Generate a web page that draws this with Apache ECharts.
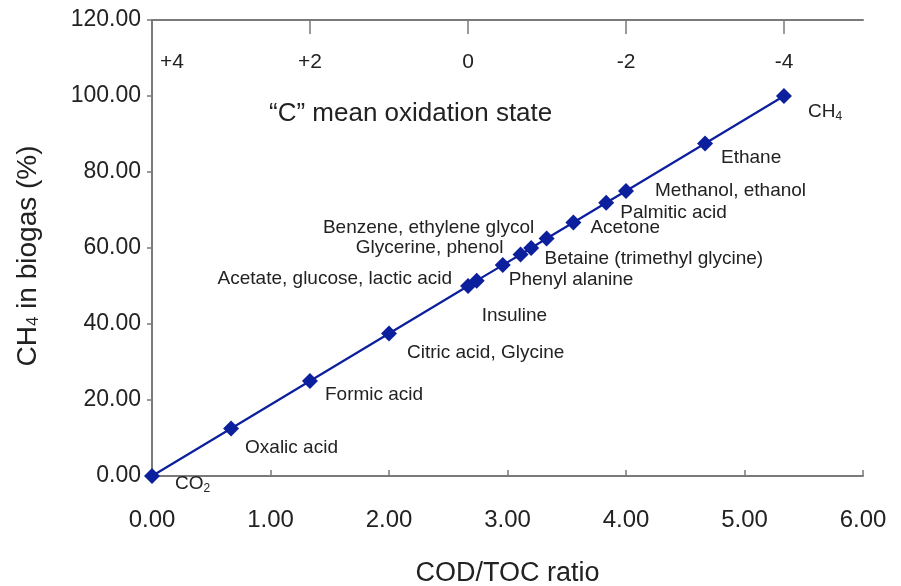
<!DOCTYPE html>
<html>
<head>
<meta charset="utf-8">
<script src="https://cdn.jsdelivr.net/npm/echarts@6/dist/echarts.min.js"></script>
<style>
  html, body { margin: 0; padding: 0; background: #fff; }
  #chart { width: 901px; height: 586px; }
</style>
</head>
<body>
<div id="chart"></div>
<script>
// compounds, COD/TOC ratio vs CH4 content in biogas
const compounds = ['CO2', 'Oxalic acid', 'Formic acid', 'Citric acid, Glycine',
  'Acetate, glucose, lactic acid', 'Insuline', 'Phenyl alanine', 'Glycerine, phenol',
  'Benzene, ethylene glycol', 'Betaine (trimethyl glycine)', 'Acetone', 'Palmitic acid',
  'Methanol, ethanol', 'Ethane', 'CH4']
const codToc = [0, 0.667, 1.333, 2.0, 2.667, 2.74, 2.96, 3.11, 3.2, 3.33, 3.556, 3.833, 4.0, 4.667, 5.333]
const ch4 = [0, 12.5, 25.0, 37.5, 50.0, 51.4, 55.5, 58.3, 60.0, 62.5, 66.7, 71.9, 75.0, 87.5, 100.0]
const oxTicks = [4, 2, 0, -2, -4]

// label placement next to each marker: [dx, dy, align]
const labelPlace = [
  [23, 8, 'left'], [14, 19, 'left'], [15, 14, 'left'], [18, 19, 'left'],
  [-16, -7, 'right'], [5, 35, 'left'], [6, 15, 'left'], [-17, -7, 'right'],
  [3, -20, 'right'], [-2, 20, 'left'], [17, 5, 'left'], [14, 10, 'left'],
  [29, 0, 'left'], [16, 14, 'left'], [24, 16, 'left']
]

const subs = { 'CO2': '{n|CO}{s|2}', 'CH4': '{n|CH}{s|4}' }

const seriesData = codToc.map((x, i) => {
  const p = labelPlace[i]
  return {
    value: [x, ch4[i]],
    name: compounds[i],
    label: {
      show: true,
      position: 'inside',
      align: p[2],
      verticalAlign: 'middle',
      offset: [p[0], p[1]],
      formatter: subs[compounds[i]] || compounds[i]
    }
  }
})

const blue = '#0c1f9c'
const axisGrey = '#7a7a7a'
const txt = '#222'
const font = 'Liberation Sans'

const chart = echarts.init(document.getElementById('chart'))
chart.setOption({
  animation: false,
  textStyle: { fontFamily: font },
  title: {
    text: '\u201cC\u201d mean oxidation state',
    left: 264, top: 96,
    textStyle: { fontFamily: font, fontSize: 26, fontWeight: 'normal', color: txt }
  },
  grid: { left: 152, right: 38, top: 20, bottom: 110, outerBoundsMode: 'none' },
  xAxis: [
    {
      type: 'value', min: 0, max: 6, interval: 1,
      name: 'COD/TOC ratio', nameLocation: 'middle', nameGap: 84,
      nameTextStyle: { fontSize: 27, color: txt, fontFamily: font },
      axisLine: { lineStyle: { color: axisGrey, width: 2 } },
      axisTick: { inside: true, length: 6, lineStyle: { color: axisGrey, width: 1.5 } },
      axisLabel: { fontSize: 24, color: txt, margin: 32, formatter: v => v.toFixed(2) },
      splitLine: { show: false }
    },
    {
      type: 'value', position: 'top', min: -5, max: 4, inverse: true,
      axisLine: { show: true, lineStyle: { color: axisGrey, width: 2 } },
      axisTick: { show: true, inside: true, length: 14, customValues: oxTicks.slice(1),
        lineStyle: { color: axisGrey, width: 1.5 } },
      axisLabel: {
        show: true, inside: true, margin: 32, fontSize: 21, color: txt,
        customValues: oxTicks,
        formatter: v => v === 4 ? '{l|+4}' : (v > 0 ? '+' + v : String(v)),
        rich: { l: { fontSize: 21, color: txt, padding: [0, 0, 0, 40] } }
      },
      splitLine: { show: false }
    }
  ],
  yAxis: {
    type: 'value', min: 0, max: 120, interval: 20,
    name: '{a|CH}{b|4}{a| in biogas (%)}', nameLocation: 'middle', nameGap: 110,
    nameTextStyle: {
      padding: [0, 16, 0, 0],
      rich: {
        a: { fontSize: 28, color: txt, fontFamily: font },
        b: { fontSize: 17, color: txt, fontFamily: font, padding: [10, 0, 0, 0] }
      }
    },
    axisLine: { show: true, lineStyle: { color: axisGrey, width: 2 } },
    axisTick: { show: true, length: 5, lineStyle: { color: axisGrey, width: 1.5 } },
    axisLabel: { fontSize: 23, color: txt, margin: 11, formatter: v => v.toFixed(2) },
    splitLine: { show: false }
  },
  series: [{
    type: 'line',
    data: seriesData,
    symbol: 'diamond',
    symbolSize: 16,
    itemStyle: { color: blue },
    lineStyle: { color: blue, width: 2.2 },
    label: {
      fontSize: 19, color: txt, fontFamily: font,
      rich: {
        n: { fontSize: 19, color: txt, fontFamily: font },
        s: { fontSize: 12, color: txt, fontFamily: font, padding: [9, 0, 0, 0] }
      }
    },
    z: 3
  }]
})
</script>
</body>
</html>
